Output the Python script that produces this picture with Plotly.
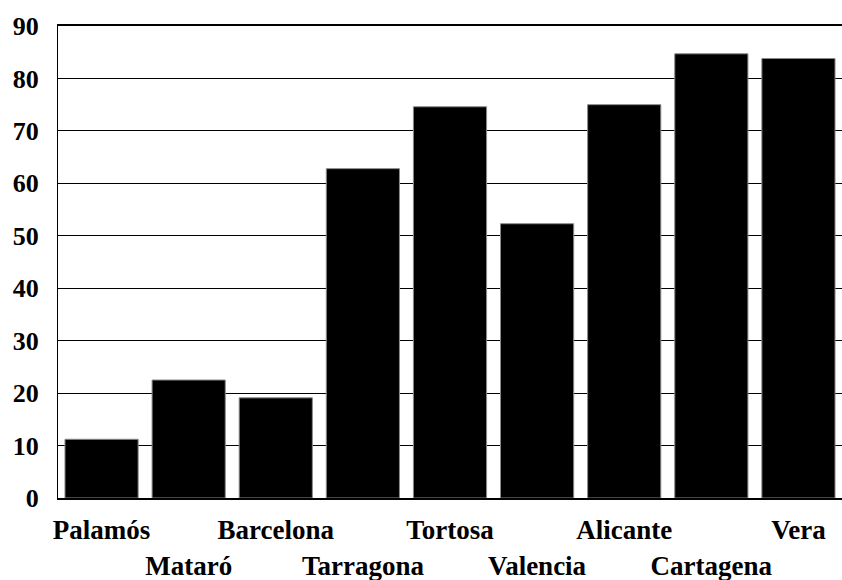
import plotly.graph_objects as go

# Ports along the coast and their values
ports = ["Palamós", "Mataró", "Barcelona", "Tarragona", "Tortosa",
         "Valencia", "Alicante", "Cartagena", "Vera"]
values = [11.2, 22.5, 19.1, 62.8, 74.6, 52.3, 75.0, 84.7, 83.8]
y_ticks = [0, 10, 20, 30, 40, 50, 60, 70, 80, 90]

# Alternate labels between two rows so the long names don't collide
tick_text = [p if i % 2 == 0 else "<br>" + p for i, p in enumerate(ports)]

fig = go.Figure(
    go.Bar(
        x=ports,
        y=values,
        marker=dict(color="black", line=dict(color="#8a8a8a", width=1)),
        width=0.84,
    )
)

serif = dict(family="Liberation Serif, Times New Roman, serif",
             size=27, color="black", weight="bold")

fig.update_layout(
    width=842,
    height=580,
    margin=dict(l=58, r=0, t=26, b=82),
    paper_bgcolor="white",
    plot_bgcolor="white",
    showlegend=False,
    bargap=0.16,
    font=serif,
)

fig.update_xaxes(
    tickmode="array",
    tickvals=ports,
    ticktext=tick_text,
    tickfont=serif,
    tickangle=0,
    automargin=False,
    showline=True,
    linecolor="black",
    linewidth=2,
    mirror=True,
    ticks="",
    ticklabelstandoff=7,
    showgrid=False,
)

fig.update_yaxes(
    range=[0, 90],
    tickmode="array",
    tickvals=y_ticks,
    ticktext=[str(v) for v in y_ticks],
    tickfont=dict(serif, size=26),
    automargin=False,
    showline=True,
    linecolor="black",
    linewidth=1,
    showgrid=True,
    gridcolor="black",
    gridwidth=1,
    zeroline=False,
    ticks="",
    ticklabelstandoff=13,
)

fig.write_html("out.html")
